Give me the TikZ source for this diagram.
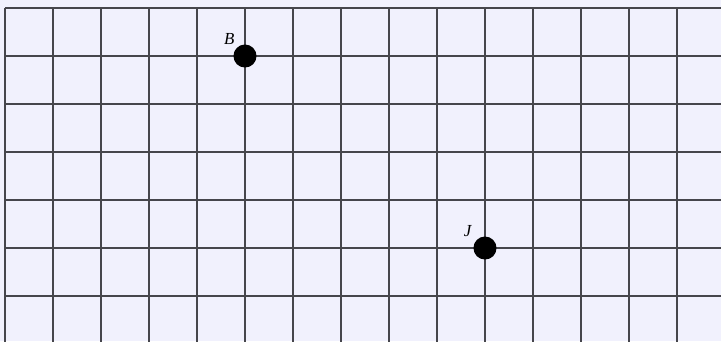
\documentclass[tikz,border=0pt]{standalone}
\usepackage{fontspec}
\setmainfont{Liberation Serif}
\usepackage{tikz}
\usetikzlibrary{positioning}
\definecolor{paper}{RGB}{241,241,253}
\definecolor{gridink}{RGB}{70,70,76}

\begin{document}
\begin{tikzpicture}[
    gridline/.style={draw=gridink, line width=0.9pt},
    dot/.style={circle, fill=black, inner sep=0pt, minimum size=0.48cm},
    lbl/.style={inner sep=0pt, font=\normalsize\itshape},
]

% === BACKGROUND ===
\fill[paper] (-0.104,0.0625) rectangle (14.917,7.167);
\useasboundingbox (-0.104,0.0625) rectangle (14.917,7.167);
\clip (-0.104,0.0625) rectangle (14.917,7.167);

% === GRID ===
\draw[gridline] (0,-1) grid (16,7);

% === POINTS ===
\node[dot] (b) at (5,6) {};
\node[dot] (j) at (10,2) {};

% === LABELS ===
\node[lbl, above left=0.06cm and 0.04cm of b] (blbl) {B};
\node[lbl, above left=0.06cm and 0.1cm of j] (jlbl) {J};

\end{tikzpicture}
\end{document}
